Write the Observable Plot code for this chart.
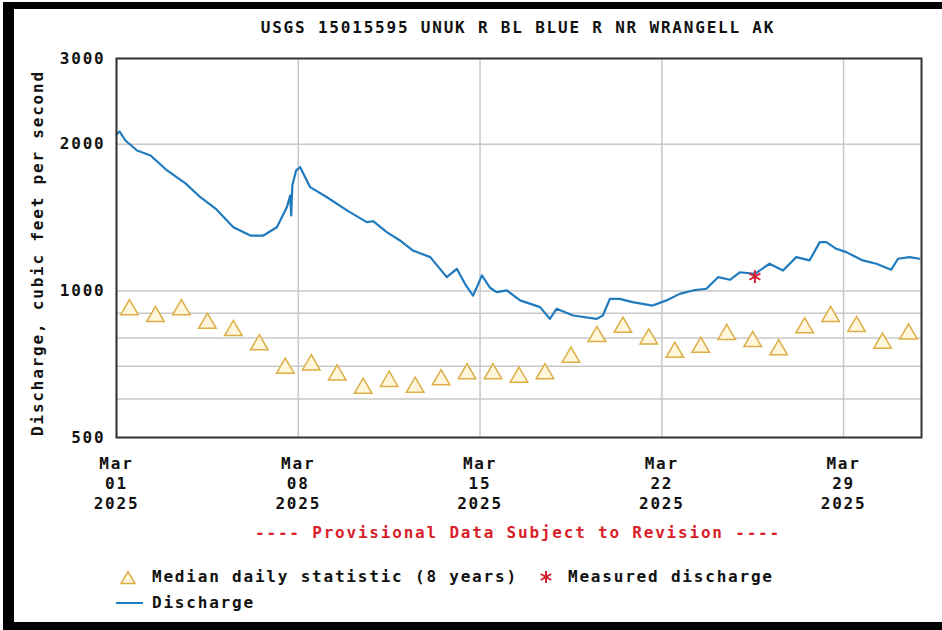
<!DOCTYPE html>
<html><head><meta charset="utf-8">
<script src="https://cdn.jsdelivr.net/npm/d3@7"></script>
<script src="https://cdn.jsdelivr.net/npm/@observablehq/plot@0.6"></script>
<style>
body{margin:0;background:#fff;width:942px;height:630px;overflow:hidden;position:relative;font-family:"DejaVu Sans Mono",monospace;font-weight:bold;}
.t{position:absolute;white-space:pre;font-size:16px;line-height:16px;letter-spacing:1.8px;color:#111;}
.c{transform:translateX(-50%);}
.blk{position:absolute;background:#000;}
#chart{position:absolute;left:0;top:0;}
</style></head>
<body>
<div id="chart"></div>
<div class="t c" style="left:518px;top:20px;">USGS 15015595 UNUK R BL BLUE R NR WRANGELL AK</div>
<div class="t" style="left:-162px;top:245px;width:400px;text-align:center;transform:rotate(-90deg);">Discharge, cubic feet per second</div>
<div class="t c" style="left:518px;top:525px;color:#d81e2a;">---- Provisional Data Subject to Revision ----</div>
<svg style="position:absolute;left:119px;top:569px" width="20" height="18"><path d="M9,2.5 L16,14.5 L2,14.5 Z" fill="#fff6dc" stroke="#dcae45" stroke-width="1.5"/></svg>
<div class="t" style="left:152px;top:569px;">Median daily statistic (8 years)</div>
<svg style="position:absolute;left:538px;top:569px" width="16" height="16"><g stroke="#d42030" stroke-width="2"><line x1="8" y1="2" x2="8" y2="14"/><line x1="2.8" y1="5" x2="13.2" y2="11"/><line x1="2.8" y1="11" x2="13.2" y2="5"/></g></svg>
<div class="t" style="left:568px;top:569px;">Measured discharge</div>
<svg style="position:absolute;left:116px;top:598px" width="30" height="10"><line x1="0" y1="5" x2="27" y2="5" stroke="#1a7cc1" stroke-width="2"/></svg>
<div class="t" style="left:152px;top:595px;">Discharge</div>
<div class="blk" style="left:3px;top:2px;width:939px;height:7px;"></div>
<div class="blk" style="left:3px;top:2px;width:11px;height:628px;"></div>
<div class="blk" style="left:3px;top:622px;width:939px;height:8px;"></div>
<script>
const dischargeTimes = ["03-01 00:00","03-01 02:45","03-01 08:15","03-01 19:00","03-02 07:30","03-02 22:45","03-03 15:45","03-04 05:30","03-04 19:30","03-05 12:00","03-06 03:45","03-06 15:45","03-07 04:15","03-07 13:30","03-07 16:30","03-07 17:30","03-07 18:30","03-07 22:00","03-08 01:45","03-08 11:00","03-09 02:30","03-09 21:00","03-10 15:15","03-10 21:15","03-11 09:45","03-11 22:00","03-12 10:00","03-13 02:00","03-13 17:15","03-14 02:30","03-14 11:00","03-14 17:30","03-14 20:30","03-15 01:45","03-15 09:00","03-15 15:15","03-16 00:45","03-16 13:00","03-17 07:30","03-17 16:30","03-17 22:45","03-18 14:00","03-19 11:45","03-19 17:30","03-20 00:00","03-20 09:00","03-20 21:00","03-21 15:30","03-22 04:15","03-22 16:30","03-23 04:45","03-23 17:15","03-24 04:00","03-24 15:00","03-25 00:00","03-25 14:00","03-26 03:30","03-26 16:00","03-27 04:15","03-27 16:30","03-28 02:00","03-28 08:00","03-28 17:15","03-29 02:30","03-29 17:45","03-30 06:15","03-30 20:00","03-31 02:15","03-31 13:00","03-31 22:00"];
const dischargeValues = [2095,2125,2036,1942,1897,1767,1662,1557,1476,1351,1299,1299,1351,1486,1570,1428,1646,1767,1795,1633,1557,1463,1384,1390,1320,1269,1210,1173,1067,1110,1026,978,1011,1076,1016,994,1002,956,926,876,919,890,876,890,963,963,948,933,956,986,1002,1010,1067,1054,1092,1084,1137,1101,1173,1155,1259,1259,1220,1201,1155,1137,1105,1164,1173,1164];
const medianDays = [1,2,3,4,5,6,7,8,9,10,11,12,13,14,15,16,17,18,19,20,21,22,23,24,25,26,27,28,29,30,31];
const medianValues = [915,886,915,858,829,775,694,705,672,631,652,634,657,676,676,665,676,731,806,842,797,748,766,814,787,757,840,886,845,781,816];
const measuredTimes = ["03-25 14:00"];
const measuredValues = [1070];
const yTickValues = [500,1000,2000,3000];
const yGridValues = [600,700,800,900,1000,2000];
const xTickDays = [1,8,15,22,29];
const monthLabel = "Mar";
const yearLabel = "2025";

const toDate = s => { const [md, hm] = s.split(" "); return new Date(`2025-${md}T${hm}:00Z`); };
const dayDate = (d, h = 0) => new Date(Date.UTC(2025, 2, d, h));
const discharge = dischargeTimes.map((s, i) => ({t: toDate(s), q: dischargeValues[i]}));
const median = medianDays.map((d, i) => ({t: dayDate(d, 12), q: medianValues[i]}));
const measured = measuredTimes.map((s, i) => ({t: toDate(s), q: measuredValues[i]}));
const xTicks = xTickDays.map(d => dayDate(d));

const chart = Plot.plot({
  width: 942, height: 630,
  marginLeft: 116, marginRight: 21, marginTop: 58, marginBottom: 193,
  style: {fontFamily: "DejaVu Sans Mono", fontWeight: "bold", fontSize: "16px", letterSpacing: "1.8px", color: "#111", background: "transparent", overflow: "visible"},
  x: {type: "utc", domain: [dayDate(1), dayDate(32)]},
  y: {type: "log", domain: [500, 3000]},
  marks: [
    Plot.ruleY(yGridValues, {stroke: "#c8c8c8", strokeWidth: 1.5}),
    Plot.ruleX(xTicks, {stroke: "#c8c8c8", strokeWidth: 1.5}),
    Plot.line(discharge, {x: "t", y: "q", stroke: "#1f7bbd", strokeWidth: 2.2}),
    Plot.dot(median, {x: "t", y: "q", symbol: "triangle", r: 6.5, stroke: "#dcae45", fill: "#fff6dc", strokeWidth: 1.5}),
    Plot.dot(measured, {x: "t", y: "q", symbol: "asterisk", r: 6, stroke: "#d42030", strokeWidth: 2}),
    Plot.frame({stroke: "#333", strokeWidth: 2}),
    Plot.axisY({ticks: yTickValues, tickFormat: d => String(d), tickSize: 0, tickPadding: 11, label: null, fill: "#111"}),
    Plot.axisX({ticks: xTicks, tickFormat: d => `${monthLabel}\n${String(d.getUTCDate()).padStart(2, "0")}\n${yearLabel}`, tickSize: 0, tickPadding: 17, lineHeight: 1.25, label: null, fill: "#111"})
  ]
});
document.getElementById("chart").append(chart);
</script>
</body></html>
